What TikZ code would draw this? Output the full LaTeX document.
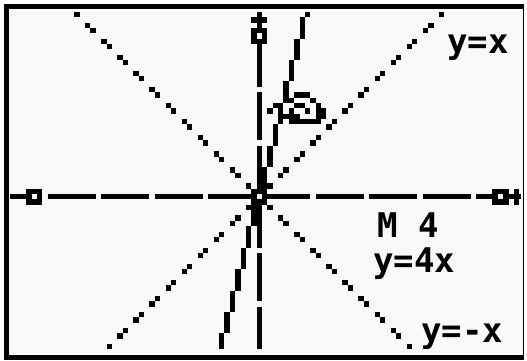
\documentclass[tikz,border=0pt]{standalone}
\usepackage{fontspec}
\newfontfamily\calcfont{DejaVu Sans Mono}
\definecolor{lcdback}{RGB}{248,248,248}
\definecolor{lcdink}{RGB}{0,0,0}
\tikzset{
  lcddot/.style={fill=lcdink, draw=none},
  lcdaxis/.style={draw=lcdink, line width=5.36pt, line cap=butt},
  lcdgap/.style={fill=lcdback, draw=none},
  calclabel/.style={
    font=\calcfont\bfseries\fontsize{34}{34}\selectfont,
    text=lcdink, inner sep=0pt, anchor=base west
  },
}
% one calculator pixel at column #1, row #2
\newcommand{\pix}[2]{\fill[lcddot] ({#1-0.5},{#2-0.5}) rectangle ++(1,1);}
% hollow 3x3 marker
\newcommand{\ringmark}[2]{%
  \fill[lcddot] ({#1-1.5},{#2-1.5}) rectangle ++(3,3);
  \fill[lcdgap] ({#1-0.5},{#2-0.5}) rectangle ++(1,1);}

\begin{document}
\begin{tikzpicture}[x=1pt, y=-1pt]
\useasboundingbox (0,0) rectangle (527,360);

%% ── Frame and screen ─────────────────────────────────────────────
\fill[white] (0,0) rectangle (527,360);
\fill[lcdink] (4,4) rectangle (524,360);
\fill[lcdback] (9,9) rectangle (523,355);

\begin{scope}[shift={(259.3,196.7)}, x=5.36pt, y=5.36pt]
  %% ── Axes with tick gaps ────────────────────────────────────────
  \draw[lcdaxis] (-46.5,0) -- (48.9,0);
  \draw[lcdaxis] (0,-28.5) -- (0,34.5);
  \foreach \t in {-40,-30,-20,-10,10,20,30,40}
    \fill[lcdgap] (\t-0.5,-0.5) rectangle ++(1,1);
  \foreach \t in {-20,-10,10,20}
    \fill[lcdgap] (-0.5,\t-0.5) rectangle ++(1,1);

  %% ── y=x and y=-x (dotted) ──────────────────────────────────────
  \foreach \k in {-28,...,34}{
    \pgfmathtruncatemacro{\on}{mod(abs(\k),3)>0 ? 1 : 0}
    \ifnum\on=1 \pix{\k}{\k}\fi
  }
  \foreach \k in {-34,...,28}{
    \pgfmathtruncatemacro{\on}{mod(abs(\k),3)>0 ? 1 : 0}
    \ifnum\on=1 \pix{\k}{-\k}\fi
  }

  %% ── y=4x ───────────────────────────────────────────────────────
  \foreach \r in {-28,...,34}{
    \pgfmathtruncatemacro{\c}{round(\r/4)}
    \pix{\c}{\r}
  }

  %% ── Markers ────────────────────────────────────────────────────
  \ringmark{0}{0}
  \ringmark{-42}{0}
  \ringmark{45}{0}
  \ringmark{0}{30}
  \fill[lcddot] (-1.5,32.5) rectangle ++(3,1);
  \fill[lcddot] (47.5,-1.5) rectangle ++(1,3);

  %% ── Hand cursor ────────────────────────────────────────────────
  \foreach \c/\r in {7/19,8/19,9/19, 6/18,10/18,
      3/17,4/17,7/17,8/17,11/17, 2/16,6/16,9/16,11/16,12/16,
      5/15,6/15,7/15,11/15,12/15, 6/14,7/14,8/14,9/14,10/14,11/14}{
    \pix{\c}{\r}
  }
\end{scope}

%% ── Labels ───────────────────────────────────────────────────────
\node[calclabel] (lblpos) at (447,53) {y=x};
\node[calclabel] (lblzoom) at (377,237) {M 4};
\node[calclabel] (lblfour) at (373,272) {y=4x};
\node[calclabel] (lblneg) at (421,342) {y=-x};

\end{tikzpicture}
\end{document}
